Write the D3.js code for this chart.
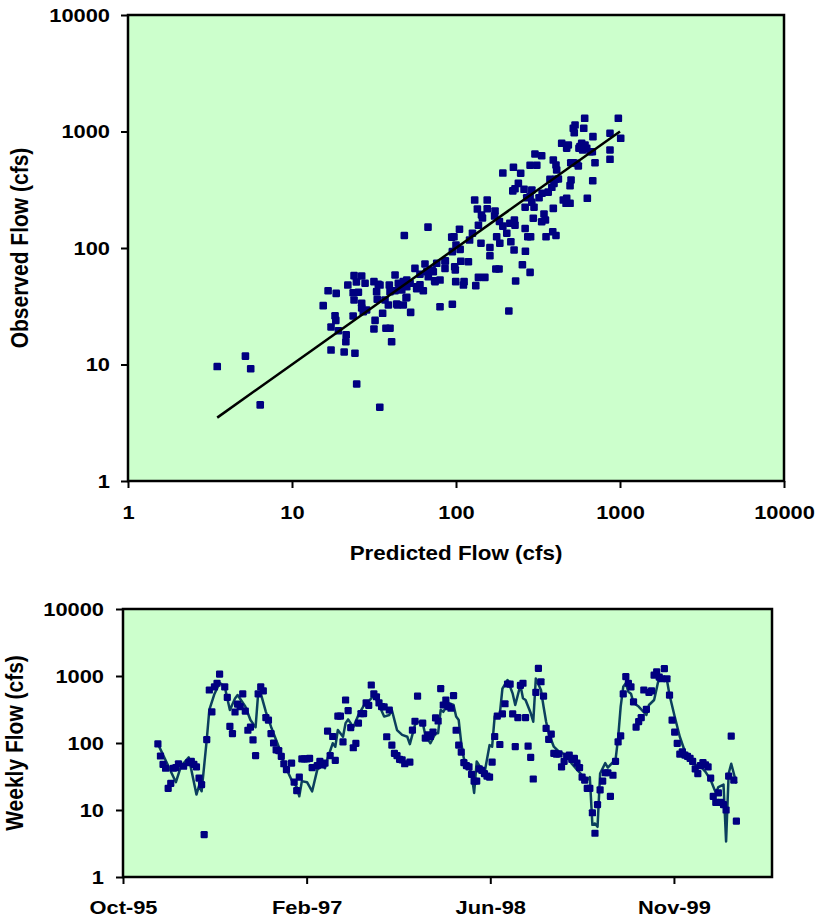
<!DOCTYPE html>
<html>
<head>
<meta charset="utf-8">
<script src="https://cdn.jsdelivr.net/npm/d3@7"></script>
<style>
body { margin: 0; background: #fff; }
svg text { font-family: "Liberation Sans", Arial, sans-serif; font-weight: bold; fill: #000; }
</style>
</head>
<body>
<div id="grafovi"></div>
<script>
// log axis ticks, both charts
const logTicks = [1, 10, 100, 1000, 10000];

// scatter: [predicted, observed] in cfs
const scatterPoints = [
  [3.5, 9.6], [5.2, 11.8], [5.6, 9.2], [6.4, 4.5], [15.5, 32.0], [16.6, 43.0], [18.6, 40.8], [18.3, 26.2],
  [18.5, 23.9], [17.3, 21.0], [19.2, 19.5], [21.4, 18.0], [21.3, 15.7], [17.3, 13.3], [20.8, 12.8], [24.2, 12.5],
  [24.8, 6.8], [34.3, 4.3], [21.9, 48.1], [23.9, 57.9], [26.6, 57.5], [24.7, 51.1], [27.9, 49.8], [23.6, 41.3],
  [25.4, 41.7], [26.6, 33.5], [27.2, 28.4], [23.6, 26.1], [28.5, 29.4], [31.6, 51.4], [33.6, 48.8], [32.8, 42.2],
  [33.1, 36.3], [35.7, 27.5], [32.1, 23.9], [31.6, 20.2], [37.4, 20.5], [39.6, 20.5], [40.5, 15.7], [39.2, 48.1],
  [42.5, 58.7], [42.5, 43.0], [44.5, 49.8], [43.9, 32.4], [26.6, 30.6], [52.9, 28.0], [47.7, 32.4], [79.9, 31.3],
  [95.0, 32.9], [210, 28.8], [48.4, 128], [67.5, 151], [94.2, 124], [56.2, 66.9], [64.7, 72.9], [86.1, 77.3],
  [85.7, 66.9], [74.5, 51.4], [66.3, 62.6], [72.7, 62.6], [60.3, 59.5], [34.4, 48.1], [39.6, 42.2], [47.7, 51.4],
  [52.5, 49.8], [57.6, 46.5], [63.2, 43.0], [46.7, 43.6], [36.9, 35.8], [38.7, 32.4], [43.5, 33.1], [49.6, 37.4],
  [23.9, 35.8], [105, 145], [97.2, 125], [126, 134], [121, 117], [100, 106], [95.0, 93.0], [106, 97.4],
  [85.7, 77.8], [107, 76.9], [119, 76.3], [98.2, 69.1], [99.0, 64.8], [76.3, 73.9], [71.4, 64.8], [50.1, 53.1],
  [50.1, 46.5], [57.6, 44.7], [60.3, 48.4], [67.8, 56.8], [74.1, 52.4], [79.9, 53.1], [50.1, 37.7], [99.6, 51.4],
  [112, 51.4], [111, 48.1], [132, 47.5], [137, 56.0], [150, 56.0], [161, 85.9], [175, 66.1], [183, 66.1],
  [231, 52.1], [254, 71.9], [283, 61.8], [265, 93.7], [226, 96.1], [216, 113], [185, 110], [177, 125],
  [161, 101], [142, 110], [137, 157], [145, 181], [155, 217], [173, 208], [172, 188], [184, 169],
  [193, 154], [213, 163], [227, 174], [229, 157], [204, 134], [264, 147], [274, 125], [285, 125],
  [264, 224], [296, 180], [299, 224], [290, 247], [270, 270], [283, 276], [321, 270], [335, 295],
  [344, 196], [333, 168], [351, 174], [354, 125], [389, 138], [407, 128], [392, 219], [365, 302],
  [405, 389], [384, 332], [396, 359], [193, 440], [224, 493], [248, 438], [229, 323], [240, 359],
  [222, 309], [260, 319], [290, 315], [130, 258], [155, 258], [135, 216], [143, 192], [283, 513],
  [311, 513], [303, 641], [333, 620], [421, 391], [441, 792], [473, 718], [484, 766], [501, 539],
  [519, 539], [545, 533], [557, 506], [392, 569], [407, 516], [411, 467], [374, 389], [503, 384],
  [496, 343], [451, 258], [473, 267], [496, 242], [469, 242], [632, 267], [682, 378], [704, 539],
  [526, 977], [532, 1137], [519, 1065], [601, 1065], [584, 792], [570, 741], [592, 694], [627, 718],
  [657, 671], [562, 718], [612, 766], [609, 1298], [684, 903], [678, 671], [869, 966], [869, 694],
  [869, 577], [977, 1298], [1010, 874]
];

// 1:1 line, predicted range
const fitRange = [3.5, 1000];

// weekly series
const weekStart = "1996-01-04";
const observedWeekly = [
  97, 64, 48, 42, 21, 25, 42, 43, 49, null,
  45, null, 51, 53, 48, 44, 30, 24, 4.3, 112,
  618, 292, 690, 780, 1070, null, 690, 480, 177, 138,
  290, 380, 350, 540, 300, 155, 172, 111, 65, 540,
  690, 600, 240, 220, 138, 100, 79, 77, 63, 49,
  40, null, 50, 26, 19.5, 31, 58, 58, 58, 59,
  43, null, 46, 53, 47, 50, 150, 65, 125, 55,
  252, 252, 104, 438, 305, 170, 85, 99, 198, 275,
  275, 396, 365, 734, 540, 490, 396, 350, 345, 124,
  311, 93, 70, 65, 57, 56, 49, null, 52, 156,
  211, 500, null, 198, 118, 132, 125, 146, 237, 213,
  650, 369, 438, 350, 330, 510, 155, 93, 73, 51,
  46, 44, 34, 27, 27, 41, 39, 35, 32, 31,
  52, 125, 252, 95, 272, 385, 760, 755, 272, 88,
  240, 725, 780, 240, 90, 61, 29, 570, 1300, 820,
  500, 165, 113, 136, 70, 68, 69, 44, 53, 63,
  66, 57, 59, 50, 43, 31, 28, 21, 21, 9.1,
  4.5, 12, 20, 27, 36, 36, 16, 33, 53, 104,
  128, 540, 980, 780, 690, 410, 172, 208, 240, 618,
  318, 570, 600, 1030, 1150, 960, 910, 1290, 910, 520,
  220, 145, 99, 68, 74, 66, 63, 59, 53, 41,
  35, 46, 51, 47, 44, 30, 16, 13, 18, 13,
  12, 10, 32, 127, 28, 6.8
];
// predicted: [week, cfs]
const predictedWeekly = [
  [0, 97], [7, 26], [9, 45], [12, 61], [15, 17], [16, 23], [17, 19], [19, 111], [20, 311], [22, 540],
  [24, 790], [26, 690], [28, 311], [30, 460], [31, 520], [34, 350], [36, 220], [38, 172], [39, 550], [40, 550],
  [42, 292], [44, 175], [47, 88], [49, 50], [52, 28], [54, 22], [55, 16], [56, 27], [58, 26], [60, 19],
  [62, 40], [64, 47], [65, 42], [66, 59], [68, 99], [69, 88], [70, 156], [72, 124], [73, 198], [74, 225],
  [76, 172], [78, 262], [81, 415], [82, 415], [84, 520], [86, 369], [88, 248], [90, 262], [91, 311], [93, 156],
  [95, 132], [97, 124], [98, 96], [100, 186], [101, 208], [103, 200], [104, 132], [106, 99], [108, 140], [109, 140],
  [110, 311], [111, 292], [113, 396], [115, 369], [116, 248], [117, 220], [118, 99], [119, 59], [121, 44], [122, 35],
  [123, 18], [124, 53], [126, 40], [127, 35], [129, 93], [130, 88], [131, 252], [133, 272], [134, 650], [136, 871],
  [138, 545], [139, 369], [141, 734], [142, 465], [143, 438], [145, 280], [146, 208], [147, 920], [149, 618], [150, 350],
  [151, 208], [152, 140], [154, 88], [156, 74], [159, 66], [161, 49], [163, 40], [165, 33], [167, 28], [168, 31],
  [169, 6.0], [170, 6.3], [171, 5.6], [172, 35], [174, 50], [175, 43], [177, 52], [178, 56], [179, 118], [180, 350],
  [181, 690], [182, 780], [183, 580], [184, 545], [185, 396], [187, 350], [190, 262], [191, 369], [193, 438], [194, 650],
  [195, 980], [196, 930], [198, 871], [199, 520], [201, 248], [203, 124], [205, 74], [207, 56], [209, 47], [211, 45],
  [213, 37], [215, 28], [217, 18], [218, 22], [220, 24], [221, 3.4], [222, 35], [223, 49], [224, 35], [225, 25]
];
const dateTicks = ["1995-10-01", "1997-02-12", "1998-06-27", "1999-11-09"];
const dateRange = ["1995-10-01", "2000-08-02"];

function crtajGrafove()
{
    const sirina = 817, visina = 921;
    const pozadina = "#ccffcc";
    const boja = "#000080";
    const sx = 1.15; // text in the reference is a bit wide

    const svg = d3.select("#grafovi")
        .append("svg")
        .attr("width", sirina)
        .attr("height", visina);

    const parse = d3.timeParse("%Y-%m-%d");

    function stilOsi(g, lijevo) {
        g.select(".domain").remove();
        g.selectAll(".tick line").attr("stroke", "#000").attr("stroke-width", 2);
        const t = g.selectAll(".tick text")
            .attr("fill", "#000")
            .style("font-size", "19px");
        if (lijevo) {
            t.attr("x", function () { return +d3.select(this).attr("x") / sx; })
             .attr("transform", "scale(" + sx + ",1)");
        } else {
            t.attr("transform", "scale(" + sx + ",1)");
        }
    }

    function okvir(o) {
        svg.append("rect")
            .attr("x", o.left).attr("y", o.top)
            .attr("width", o.right - o.left).attr("height", o.bottom - o.top)
            .attr("fill", "none")
            .attr("stroke", "#000")
            .attr("stroke-width", 2.5);
    }

    function naslovY(tekst, x, y) {
        svg.append("text")
            .attr("transform", "translate(" + x + "," + y + ") rotate(-90) scale(1,1.1)")
            .attr("text-anchor", "middle")
            .style("font-size", "21px")
            .text(tekst);
    }

    // ---- top: predicted vs observed ----
    const g1 = {left: 128, right: 784, top: 15, bottom: 481};
    const x1 = d3.scaleLog().domain([1, 10000]).range([g1.left, g1.right]);
    const y1 = d3.scaleLog().domain([1, 10000]).range([g1.bottom, g1.top]);

    svg.append("rect")
        .attr("x", g1.left).attr("y", g1.top)
        .attr("width", g1.right - g1.left).attr("height", g1.bottom - g1.top)
        .attr("fill", pozadina);

    svg.append("g")
        .selectAll("rect")
        .data(scatterPoints)
        .enter()
        .append("rect")
        .attr("x", d => x1(d[0]) - 3.8)
        .attr("y", d => y1(d[1]) - 3.8)
        .attr("width", 7.6)
        .attr("height", 7.6)
        .attr("rx", 1.2)
        .attr("fill", boja);

    svg.append("path")
        .datum(fitRange)
        .attr("d", d3.line().x(d => x1(d)).y(d => y1(d)))
        .attr("stroke", "#000")
        .attr("stroke-width", 2.5)
        .attr("fill", "none");

    okvir(g1);

    svg.append("g")
        .attr("transform", "translate(" + g1.left + ",0)")
        .call(d3.axisLeft(y1).tickValues(logTicks).tickFormat(d3.format("d")).tickSize(7).tickPadding(11))
        .call(g => stilOsi(g, true));

    svg.append("g")
        .attr("transform", "translate(0," + g1.bottom + ")")
        .call(d3.axisBottom(x1).tickValues(logTicks).tickFormat(d3.format("d")).tickSize(7).tickPadding(18))
        .call(g => stilOsi(g, false));

    naslovY("Observed Flow (cfs)", 28, (g1.top + g1.bottom) / 2);

    svg.append("text")
        .attr("transform", "translate(" + (g1.left + g1.right) / 2 + ",560) scale(1.12,1)")
        .attr("text-anchor", "middle")
        .style("font-size", "20px")
        .text("Predicted Flow (cfs)");

    // ---- bottom: weekly flow ----
    const g2 = {left: 123, right: 772, top: 609, bottom: 877};
    const x2 = d3.scaleTime().domain(dateRange.map(parse)).range([g2.left, g2.right]);
    const y2 = d3.scaleLog().domain([1, 10000]).range([g2.bottom, g2.top]);
    const start = parse(weekStart);
    const tjedan = i => d3.timeDay.offset(start, i * 7);

    svg.append("rect")
        .attr("x", g2.left).attr("y", g2.top)
        .attr("width", g2.right - g2.left).attr("height", g2.bottom - g2.top)
        .attr("fill", pozadina);

    svg.append("path")
        .datum(predictedWeekly)
        .attr("d", d3.line().x(d => x2(tjedan(d[0]))).y(d => y2(d[1])))
        .attr("stroke", "#0b3f5e")
        .attr("stroke-width", 2.5)
        .attr("stroke-linejoin", "round")
        .attr("fill", "none");

    const obs = observedWeekly
        .map((v, i) => ({datum: tjedan(i), v: v}))
        .filter(d => d.v != null);

    svg.append("g")
        .selectAll("rect")
        .data(obs)
        .enter()
        .append("rect")
        .attr("x", d => x2(d.datum) - 3.6)
        .attr("y", d => y2(d.v) - 3.6)
        .attr("width", 7.2)
        .attr("height", 7.2)
        .attr("rx", 1.2)
        .attr("fill", boja);

    okvir(g2);

    svg.append("g")
        .attr("transform", "translate(" + g2.left + ",0)")
        .call(d3.axisLeft(y2).tickValues(logTicks).tickFormat(d3.format("d")).tickSize(7).tickPadding(12))
        .call(g => stilOsi(g, true));

    svg.append("g")
        .attr("transform", "translate(0," + g2.bottom + ")")
        .call(d3.axisBottom(x2).tickValues(dateTicks.map(parse)).tickFormat(d3.timeFormat("%b-%y")).tickSize(7).tickPadding(17))
        .call(g => stilOsi(g, false));

    naslovY("Weekly Flow (cfs)", 23, (g2.top + g2.bottom) / 2);
}
crtajGrafove();
</script>
</body>
</html>
